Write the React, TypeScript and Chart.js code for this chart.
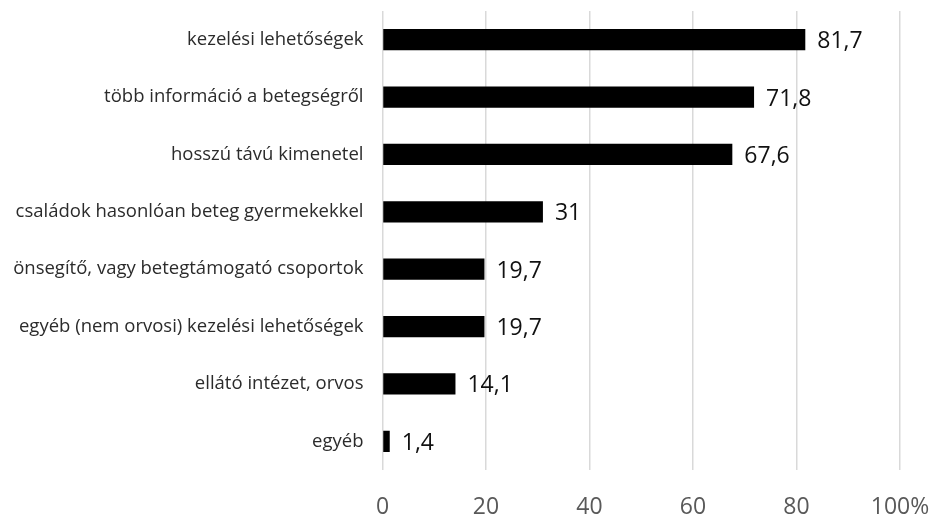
import React, { useEffect, useRef } from "react";
import { Chart, registerables } from "chart.js";

Chart.register(...registerables);

const categories = [
  "kezelési lehetőségek",
  "több információ a betegségről",
  "hosszú távú kimenetel",
  "családok hasonlóan beteg gyermekekkel",
  "önsegítő, vagy betegtámogató csoportok",
  "egyéb (nem orvosi) kezelési lehetőségek",
  "ellátó intézet, orvos",
  "egyéb",
];
const values = [81.7, 71.8, 67.6, 31, 19.7, 19.7, 14.1, 1.4];
const valueLabels = ["81,7", "71,8", "67,6", "31", "19,7", "19,7", "14,1", "1,4"];
const xTicks = [0, 20, 40, 60, 80, 100];

const FONT = "'Open Sans', sans-serif";

// Writes each bar's value just past its end
const barValueLabels = {
  id: "barValueLabels",
  afterDatasetsDraw(chart: any) {
    const ctx = chart.ctx;
    const meta = chart.getDatasetMeta(0);
    ctx.save();
    ctx.font = `23px ${FONT}`;
    ctx.fillStyle = "#111111";
    ctx.textAlign = "left";
    ctx.textBaseline = "middle";
    meta.data.forEach((bar: any, i: number) => {
      ctx.fillText(valueLabels[i], bar.x + 12, bar.y + 2);
    });
    ctx.restore();
  },
};

export default function App() {
  const canvasRef = useRef<HTMLCanvasElement | null>(null);

  useEffect(() => {
    if (!canvasRef.current) return;
    const chart = new Chart(canvasRef.current, {
      type: "bar",
      data: {
        labels: categories,
        datasets: [
          {
            data: values,
            backgroundColor: "#000000",
            borderWidth: 0,
            barPercentage: 0.37,
            categoryPercentage: 1,
          },
        ],
      },
      options: {
        indexAxis: "y",
        animation: false,
        responsive: false,
        maintainAspectRatio: false,
        layout: { padding: { top: 11, right: 42, left: 0, bottom: 0 } },
        plugins: {
          legend: { display: false },
          tooltip: { enabled: false },
        },
        scales: {
          x: {
            min: 0,
            max: 100,
            afterBuildTicks(scale: any) {
              scale.ticks = xTicks.map((v) => ({ value: v }));
            },
            afterFit(scale: any) {
              scale.height = 46;
              scale.paddingLeft = 0;
              scale.paddingRight = 0;
            },
            grid: {
              color: "#d9d9d9",
              lineWidth: 1.5,
              drawTicks: false,
            },
            border: { display: false },
            ticks: {
              padding: 24,
              color: "#595959",
              font: { family: FONT, size: 23 },
              callback: (v: any) => (Number(v) === 100 ? "100%" : String(v)),
            },
          },
          y: {
            afterFit(scale: any) {
              scale.width = 382.5;
              scale.paddingTop = 0;
              scale.paddingBottom = 0;
            },
            grid: { display: false, drawTicks: false },
            border: { display: false },
            ticks: {
              padding: 19,
              color: "#2b2b2b",
              font: { family: FONT, size: 18.5 },
            },
          },
        },
      },
      plugins: [barValueLabels],
    });
    return () => chart.destroy();
  }, []);

  return (
    <div style={{ position: "fixed", left: 0, top: 0, width: 942, height: 516, background: "#ffffff" }}>
      <canvas ref={canvasRef} width={942} height={516} style={{ width: 942, height: 516 }} />
    </div>
  );
}
